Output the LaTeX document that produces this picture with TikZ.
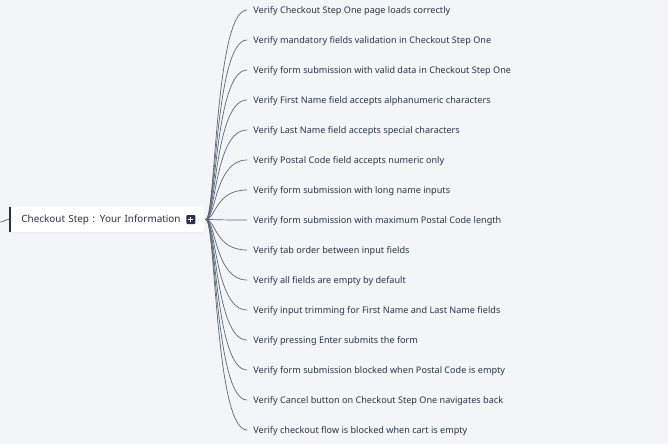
\documentclass[tikz,border=0pt]{standalone}
\usepackage{fontspec}
\setmainfont{Noto Sans}
\usetikzlibrary{positioning,shadows}
\definecolor{canvas}{HTML}{F4F5F7}
\definecolor{ink}{HTML}{28334D}
\definecolor{wire}{HTML}{5E6679}

\begin{document}
\begin{tikzpicture}[x=1pt, y=-1pt, thick,
	root/.style = {draw=white, fill=white, rounded corners=3pt, anchor=west, text=ink,
		minimum height=25pt, text width=170pt, align=left, inner xsep=12pt,
		font=\fontsize{9.9}{12}\selectfont,
		drop shadow={opacity=0.15, shadow xshift=0pt, shadow yshift=-1pt}},
	leaf/.style = {anchor=west, inner sep=0pt, text=ink, font=\fontsize{9.1}{11}\selectfont},
	toggle/.style = {fill=ink, rounded corners=1pt, minimum size=9pt, inner sep=0pt},
	link/.style = {draw=wire, line width=0.7pt}]
	\useasboundingbox[fill=canvas] (0,0) rectangle (668,444);
	% root topic
	\node[root] (root) at (9,219.5) {Checkout Step : Your Information};
	\draw[ink, line width=2pt] ([xshift=1pt]root.north west) -- ([xshift=1pt]root.south west);
	\node[toggle] (plus) [left=8pt of root.east] {};
	\draw[white, line width=1pt] ([xshift=-2.5pt]plus.center) -- ([xshift=2.5pt]plus.center);
	\draw[white, line width=1pt] ([yshift=-2.5pt]plus.center) -- ([yshift=2.5pt]plus.center);
	\coordinate (hub) at ([xshift=2pt]root.east);
	% link from the parent
	\coordinate (parent) at (0,222);
	\draw[link] (parent) .. controls (5,222) and (4,219.5) .. (root.west);
	% test cases
	\foreach \txt [count=\i] in {
		Verify Checkout Step One page loads correctly,
		Verify mandatory fields validation in Checkout Step One,
		Verify form submission with valid data in Checkout Step One,
		Verify First Name field accepts alphanumeric characters,
		Verify Last Name field accepts special characters,
		Verify Postal Code field accepts numeric only,
		Verify form submission with long name inputs,
		Verify form submission with maximum Postal Code length,
		Verify tab order between input fields,
		Verify all fields are empty by default,
		Verify input trimming for First Name and Last Name fields,
		Verify pressing Enter submits the form,
		Verify form submission blocked when Postal Code is empty,
		Verify Cancel button on Checkout Step One navigates back,
		Verify checkout flow is blocked when cart is empty}
	{
		\node[leaf] (case\i) at (253,{11.5+30*(\i-1)}) {\txt};
		\draw[link] (hub) .. controls +(10,0) and +(-32,0) .. ([xshift=-6pt, yshift=1.5pt]case\i.west);
	}
\end{tikzpicture}
\end{document}
